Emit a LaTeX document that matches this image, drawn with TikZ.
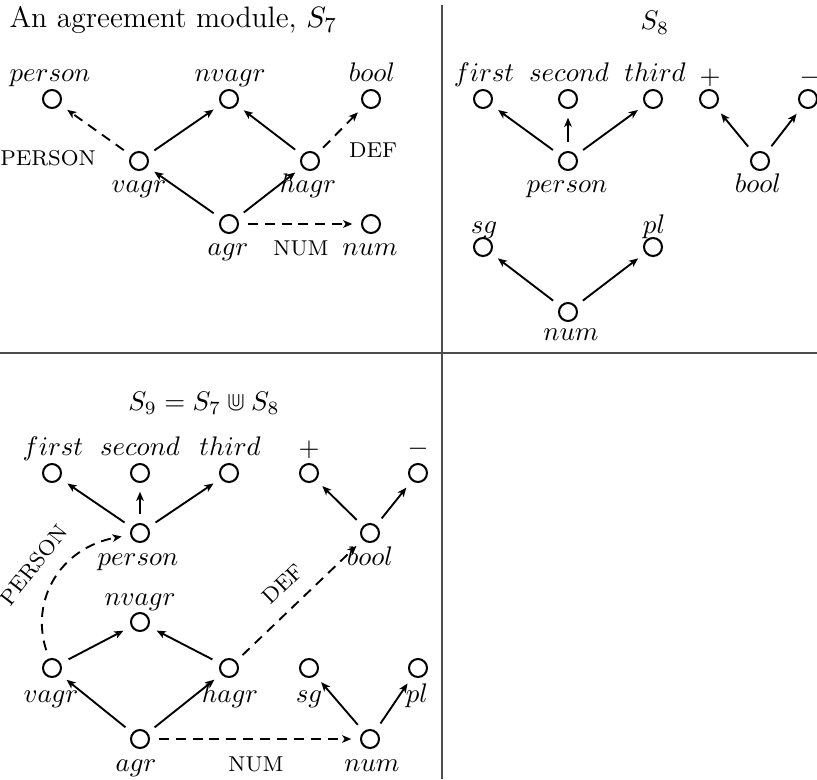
\documentclass[tikz,border=0pt]{standalone}
\usepackage{amssymb}
\usetikzlibrary{arrows.meta}
\begin{document}
\begin{tikzpicture}[x=0.372pt, y=-0.372pt,
  dot/.style={circle, draw, line width=0.75pt, minimum size=6.7pt, inner sep=0pt, outer sep=3.6pt},
  lab/.style={anchor=base, inner sep=0pt},
  smallcapslab/.style={anchor=base, inner sep=0pt, font=\footnotesize},
  arr/.style={line width=0.7pt, -{Stealth[length=3.4pt,width=2.8pt,inset=0.9pt]}},
  darr/.style={arr, dash pattern=on 3.7pt off 2.6pt},
  divider/.style={line width=0.75pt, draw=black!70}]
\useasboundingbox (0,0) rectangle (817,779);
% dividers
\draw[divider] (442,5) -- (442,779);
\draw[divider] (0,353) -- (817,353);

% ---------- S7 ----------
\node[lab, anchor=base west, font=\fontsize{11}{13}\selectfont] (t7) at (9,28) {An agreement module, $S_7$};
\node[dot] (a-person) at (52,99) {};
\node[dot] (a-nvagr) at (229,99) {};
\node[dot] (a-bool) at (371,99) {};
\node[dot] (a-vagr) at (139,161) {};
\node[dot] (a-hagr) at (310,161) {};
\node[dot] (a-agr) at (229,224) {};
\node[dot] (a-num) at (371,224) {};
\node[lab] (a-personL) at (50,82) {$person$};
\node[lab] (a-nvagrL) at (230,82) {$nvagr$};
\node[lab] (a-boolL) at (372,82) {$bool$};
\node[lab] (a-vagrL) at (139,192) {$vagr$};
\node[lab] (a-hagrL) at (308,192) {$hagr$};
\node[lab] (a-agrL) at (228,255) {$agr$};
\node[lab] (a-numL) at (370,255) {$num$};
\node[smallcapslab] (a-PERSON) at (48,165) {PERSON};
\node[smallcapslab] (a-DEF) at (373,157) {DEF};
\node[smallcapslab] (a-NUM) at (301,255) {NUM};
\draw[darr] (a-vagr) -- (a-person);
\draw[arr] (a-vagr) -- (a-nvagr);
\draw[arr] (a-hagr) -- (a-nvagr);
\draw[darr] (a-hagr) -- (a-bool);
\draw[arr] (a-agr) -- (a-vagr);
\draw[arr] (a-agr) -- (a-hagr);
\draw[darr] (a-agr) -- (a-num);

% ---------- S8 ----------
\node[lab] (t8) at (655,30) {$S_8$};
\node[dot] (b-first) at (483,99) {};
\node[dot] (b-second) at (568,99) {};
\node[dot] (b-third) at (653,99) {};
\node[dot] (b-plus) at (709,99) {};
\node[dot] (b-minus) at (808,99) {};
\node[dot] (b-person) at (568,161) {};
\node[dot] (b-bool) at (760,161) {};
\node[dot] (b-sg) at (483,247) {};
\node[dot] (b-pl) at (653,247) {};
\node[dot] (b-num) at (568,312) {};
\node[lab] (b-firstL) at (484,82) {$first$};
\node[lab] (b-secondL) at (569,82) {$second$};
\node[lab] (b-thirdL) at (655,82) {$third$};
\node[inner sep=0pt] (b-plusL) at (710,78) {$+$};
\node[inner sep=0pt] (b-minusL) at (810,78) {$-$};
\node[lab] (b-personL) at (567,192) {$person$};
\node[lab] (b-boolL) at (758,192) {$bool$};
\node[lab] (b-sgL) at (484,233) {$sg$};
\node[lab] (b-plL) at (654,233) {$pl$};
\node[lab] (b-numL) at (571,340) {$num$};
\draw[arr] (b-person) -- (b-first);
\draw[arr] (b-person) -- (b-second);
\draw[arr] (b-person) -- (b-third);
\draw[arr] (b-bool) -- (b-plus);
\draw[arr] (b-bool) -- (b-minus);
\draw[arr] (b-num) -- (b-sg);
\draw[arr] (b-num) -- (b-pl);

% ---------- S9 ----------
\node[lab] (t9) at (204,410) {$S_9 = S_7 \Cup S_8$};
\node[dot] (c-first) at (52,473) {};
\node[dot] (c-second) at (140,473) {};
\node[dot] (c-third) at (229,473) {};
\node[dot] (c-plus) at (309,473) {};
\node[dot] (c-minus) at (418,473) {};
\node[dot] (c-person) at (140,533) {};
\node[dot] (c-bool) at (370,533) {};
\node[dot] (c-nvagr) at (140,622) {};
\node[dot] (c-vagr) at (52,668) {};
\node[dot] (c-hagr) at (229,668) {};
\node[dot] (c-sg) at (309,668) {};
\node[dot] (c-pl) at (418,668) {};
\node[dot] (c-agr) at (140,739) {};
\node[dot] (c-num) at (370,739) {};
\node[lab] (c-firstL) at (53,455) {$first$};
\node[lab] (c-secondL) at (140,455) {$second$};
\node[lab] (c-thirdL) at (230,455) {$third$};
\node[inner sep=0pt] (c-plusL) at (309,450) {$+$};
\node[inner sep=0pt] (c-minusL) at (418,449) {$-$};
\node[lab] (c-personL) at (138,565) {$person$};
\node[lab] (c-boolL) at (370,565) {$bool$};
\node[lab] (c-nvagrL) at (140,605) {$nvagr$};
\node[lab] (c-vagrL) at (51,702) {$vagr$};
\node[lab] (c-hagrL) at (230,702) {$hagr$};
\node[lab] (c-sgL) at (309,702) {$sg$};
\node[lab] (c-plL) at (417,702) {$pl$};
\node[lab] (c-agrL) at (136,771) {$agr$};
\node[lab] (c-numL) at (372,771) {$num$};
\node[font=\footnotesize, inner sep=0pt, rotate=52] (c-PERSON) at (34,565) {PERSON};
\node[font=\footnotesize, inner sep=0pt, rotate=44] (c-DEF) at (283,584) {DEF};
\node[smallcapslab] (c-NUM) at (256,771) {NUM};
\draw[arr] (c-person) -- (c-first);
\draw[arr] (c-person) -- (c-second);
\draw[arr] (c-person) -- (c-third);
\draw[arr] (c-bool) -- (c-plus);
\draw[arr] (c-bool) -- (c-minus);
\draw[arr] (c-vagr) -- (c-nvagr);
\draw[arr] (c-hagr) -- (c-nvagr);
\draw[arr] (c-agr) -- (c-vagr);
\draw[arr] (c-agr) -- (c-hagr);
\draw[arr] (c-num) -- (c-sg);
\draw[arr] (c-num) -- (c-pl);
\draw[darr] (c-agr) -- (c-num);
\draw[darr] (c-hagr) -- (c-bool);
\draw[darr] (c-vagr) .. controls +(-22,-68) and +(-80,15) .. (c-person);
\end{tikzpicture}
\end{document}
